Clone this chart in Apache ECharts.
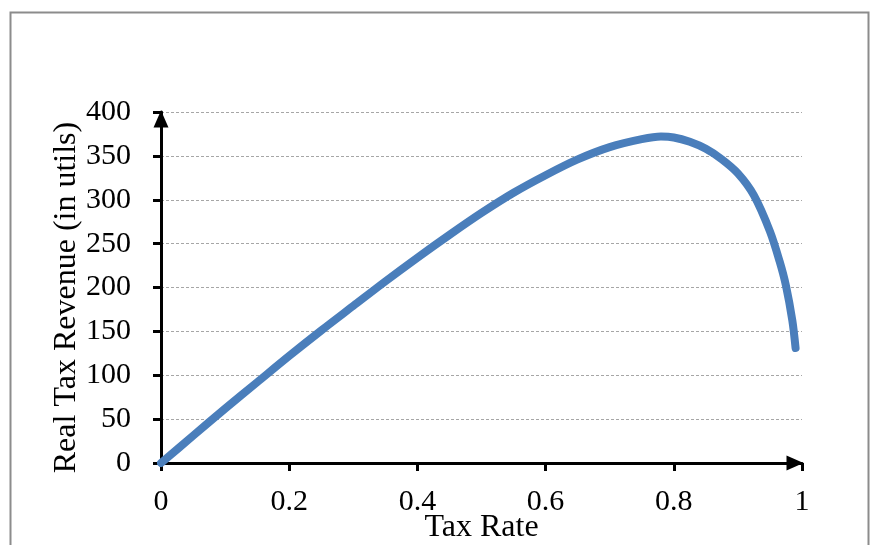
<!DOCTYPE html>
<html>
<head>
<meta charset="utf-8">
<script src="https://cdn.jsdelivr.net/npm/echarts@6/dist/echarts.min.js"></script>
<style>
html,body{margin:0;padding:0;background:#fff;}
#c{width:876px;height:545px;}
</style>
</head>
<body>
<div id="c"></div>
<script>
const taxRate = [0, 0.05, 0.1, 0.15, 0.2, 0.25, 0.3, 0.35, 0.4, 0.45, 0.5, 0.55, 0.6, 0.65, 0.7, 0.75, 0.78, 0.8, 0.825, 0.85, 0.875, 0.9, 0.925, 0.95, 0.965, 0.975, 0.985, 0.99];
const revenue = [0, 31, 62, 92, 122, 151, 179, 207, 234, 260, 285, 308, 328, 346, 360, 369, 372, 371, 366, 358, 346, 330, 305, 264, 230, 202, 162, 131];
const yTicks = ['0','50','100','150','200','250','300','350','400'];
const xTitle = 'Tax Rate';
const yTitle = 'Real Tax Revenue (in utils)';

const font = '"Liberation Serif", "Times New Roman", serif';
const chart = echarts.init(document.getElementById('c'));
chart.setOption({
  animation: false,
  backgroundColor: '#fff',
  graphic: [{
    type: 'rect', left: 8, top: 10,
    shape: {width: 858, height: 560},
    style: {fill: 'none', stroke: '#8c8c8c', lineWidth: 2},
    silent: true
  }],
  grid: {left: 161, right: 74, top: 112, bottom: 82, outerBoundsMode: 'none', containLabel: false},
  xAxis: {
    type: 'value', min: 0, max: 1, interval: 0.2,
    name: xTitle, nameLocation: 'middle', nameGap: 49, nameMoveOverlap: false,
    nameTextStyle: {fontFamily: font, fontSize: 32, color: '#000'},
    axisLine: {show: true, onZero: false, lineStyle: {color: '#000', width: 3},
      symbol: ['none', 'triangle'], symbolSize: [15, 17], symbolOffset: [0, -7]},
    axisTick: {show: true, length: 8, lineStyle: {color: '#000', width: 3}},
    axisLabel: {fontFamily: font, fontSize: 30, color: '#000', margin: 24},
    splitLine: {show: false}
  },
  yAxis: {
    type: 'value', min: 0, max: 400, interval: 50,
    name: yTitle, nameLocation: 'middle', nameGap: 78, nameRotate: 90, nameMoveOverlap: false,
    nameTextStyle: {fontFamily: font, fontSize: 32, color: '#000', padding: [0, 20, 0, 0]},
    axisLine: {show: true, onZero: false, lineStyle: {color: '#000', width: 3},
      symbol: ['none', 'triangle'], symbolSize: [15, 17], symbolOffset: [0, -7]},
    axisTick: {show: true, length: 8, lineStyle: {color: '#000', width: 3}},
    axisLabel: {fontFamily: font, fontSize: 30, color: '#000', margin: 30,
      formatter: function (v) { return yTicks[Math.round(v / 50)]; }},
    splitLine: {show: true, lineStyle: {color: '#a6a6a6', width: 1, type: [3, 2]}}
  },
  series: [{
    type: 'line',
    data: taxRate.map((t, i) => [t, revenue[i]]),
    smooth: 0.3,
    showSymbol: false,
    lineStyle: {color: '#4a7ebb', width: 8, cap: 'round', join: 'round'},
    z: 1
  }]
});
</script>
</body>
</html>
